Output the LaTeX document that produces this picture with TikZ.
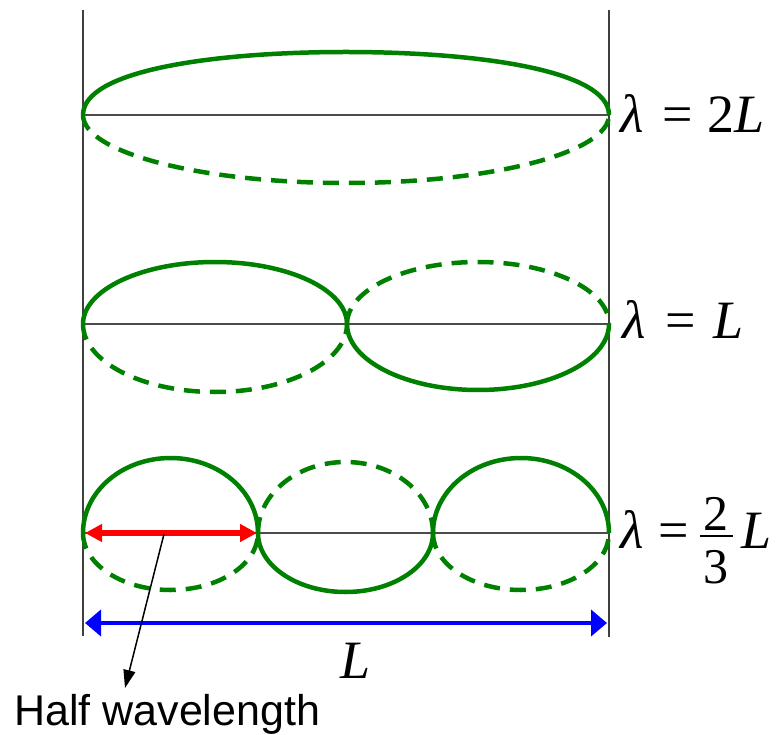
\documentclass[tikz,border=0pt]{standalone}
\usepackage{fontspec}
\setmainfont{Liberation Serif}
\newfontfamily\hsans{Liberation Sans}
\usetikzlibrary{arrows.meta}
\definecolor{wgreen}{RGB}{0,128,0}
\begin{document}
\begin{tikzpicture}[x=1pt,y=-1pt,
  frame/.style={draw=black!75,line width=1.3pt},
  axisline/.style={draw=black!70,line width=1.6pt},
  gsolid/.style={draw=wgreen,line width=4.5pt},
  gdash/.style={draw=wgreen,line width=4.5pt,dash pattern=on 16pt off 10pt},
  eqtext/.style={inner sep=0pt,font=\fontsize{54}{60}\selectfont,anchor=base west},
  fractext/.style={inner sep=0pt,font=\fontsize{50}{56}\selectfont,anchor=base},
  ]
\useasboundingbox (0,0) rectangle (776,735);
% frame coordinates
\coordinate (LT) at (83,10);
\coordinate (LB) at (83,636);
\coordinate (RT) at (609,10);
\coordinate (RB) at (609,637);
\draw[frame] (LT) -- (LB);
\draw[frame] (RT) -- (RB);
% axis lines
\coordinate (a1) at (83,115);  \coordinate (b1) at (609,115);
\coordinate (a2) at (83,324);  \coordinate (b2) at (609,324);
\coordinate (a3) at (83,533);  \coordinate (b3) at (609,533);
\draw[axisline] (a1) -- (b1);
\draw[axisline] (a2) -- (b2);
\draw[axisline] (a3) -- (b3);
% row 1: lambda = 2L
\draw[gsolid] (a1) .. controls (83,70) and (215,52) .. (346,52)
              .. controls (477,52) and (609,70) .. (b1);
\draw[gdash] (a1) arc[start angle=180,end angle=0,x radius=263,y radius=68];
% row 2: lambda = L
\draw[gsolid] (a2) arc[start angle=180,end angle=360,x radius=132,y radius=62];
\draw[gdash]  (a2) arc[start angle=180,end angle=0,x radius=132,y radius=68];
\coordinate (m2) at (347,324);
\draw[gdash]  (m2) arc[start angle=180,end angle=360,x radius=131,y radius=62];
\draw[gsolid] (m2) arc[start angle=180,end angle=0,x radius=131,y radius=66];
% row 3: lambda = 2/3 L
\coordinate (m3a) at (258,533);
\coordinate (m3b) at (433,533);
\draw[gsolid] (a3) arc[start angle=180,end angle=360,x radius=87.5,y radius=75];
\draw[gdash]  (a3) arc[start angle=180,end angle=0,x radius=87.5,y radius=57];
\draw[gdash]  (m3a) arc[start angle=180,end angle=360,x radius=87.5,y radius=71];
\draw[gsolid] (m3a) arc[start angle=180,end angle=0,x radius=87.5,y radius=59];
\draw[gsolid] (m3b) arc[start angle=180,end angle=360,x radius=88,y radius=75];
\draw[gdash]  (m3b) arc[start angle=180,end angle=0,x radius=88,y radius=57];
% labels
\node[eqtext] (eq1) at (620,133) {\itshape λ\upshape\hspace{19pt}=\hspace{14pt}2\itshape L};
\node[eqtext] (eq2) at (622,338) {\itshape λ\upshape\hspace{20pt}=\hspace{17pt}\itshape L};
\node[eqtext] (eq3) at (620,548) {\itshape λ\upshape\hspace{15pt}=};
\node[fractext] (num) at (716,530) {2};
\node[fractext] (den) at (716,583) {3};
\draw[line width=2pt] (700,536) -- (733,536);
\node[eqtext] (eq3L) at (741,548) {\itshape L};
% red half wavelength arrow
\coordinate (r1) at (85,533);
\coordinate (r2) at (257,533);
\draw[red,line width=6pt,{Triangle[length=17pt,width=17pt]}-{Triangle[length=17pt,width=17pt]}] (r1) -- (r2);
% blue L arrow
\coordinate (u1) at (85,623);
\coordinate (u2) at (607,623);
\draw[blue,line width=4.5pt,{Triangle[length=16pt,width=26pt]}-{Triangle[length=16pt,width=26pt]}] (u1) -- (u2);
\node[eqtext,anchor=base] (Llab) at (356,678) {\itshape L};
% half wavelength label and pointer
\node[inner sep=0pt,anchor=base west,font=\hsans\fontsize{43}{48}\selectfont] (hw) at (14,725) {Half wavelength};
\coordinate (p1) at (164,534);
\coordinate (p2) at (125,688);
\draw[line width=1.5pt,-{Triangle[length=18pt,width=12pt]}] (p1) -- (p2);
\end{tikzpicture}
\end{document}
